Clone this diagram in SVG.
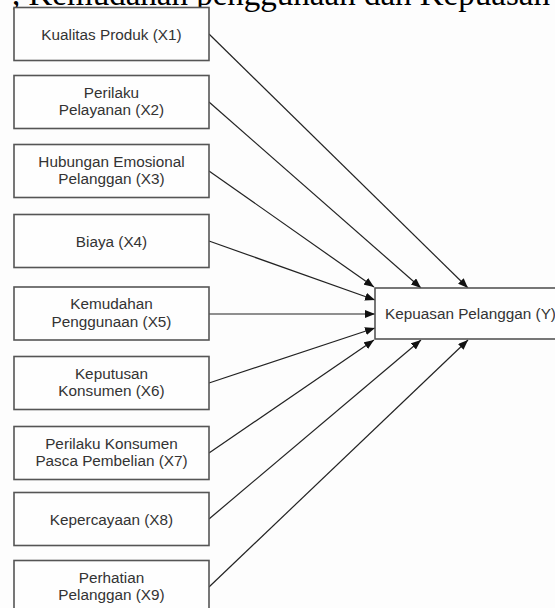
<svg xmlns="http://www.w3.org/2000/svg" width="555" height="608" viewBox="0 0 555 608">
<defs>
<style>
.box{fill:#fefefe;stroke:#555;stroke-width:1.6}
.lbl{font-family:"Liberation Sans",Arial,sans-serif;font-size:15.3px;fill:#333;text-anchor:middle}
.edge{stroke:#222;stroke-width:1.2;fill:none;marker-end:url(#ah)}
.hdr{font-family:"Liberation Serif","Times New Roman",serif;font-size:33px;fill:#000}
</style>
<marker id="ah" markerUnits="userSpaceOnUse" markerWidth="10" markerHeight="8" refX="10" refY="4" orient="auto">
<path d="M0,0 L10,4 L0,8 z" fill="#111"/>
</marker>
</defs>
<rect width="555" height="608" fill="#fdfdfd"/>
<text class="hdr" x="12" y="5">, Kemudahan penggunaan dan Kepuasan Pelanggan</text>
<g id="connectors">
<line class="edge" x1="209" y1="34" x2="468" y2="288"/>
<line class="edge" x1="209" y1="102" x2="421" y2="288"/>
<line class="edge" x1="209" y1="171" x2="374" y2="287"/>
<line class="edge" x1="209" y1="241" x2="375" y2="300"/>
<line class="edge" x1="209" y1="314" x2="375" y2="314"/>
<line class="edge" x1="209" y1="383" x2="375" y2="328"/>
<line class="edge" x1="209" y1="453" x2="374" y2="340"/>
<line class="edge" x1="209" y1="519" x2="421" y2="340"/>
<line class="edge" x1="209" y1="587" x2="468" y2="340"/>
</g>
<g id="x1"><rect class="box" x="14" y="7.5" width="195" height="53"/><text class="lbl" x="111.5" y="39.5">Kualitas Produk (X1)</text></g>
<g id="x2"><rect class="box" x="14" y="75.5" width="195" height="53"/><text class="lbl" x="111.5" y="97.5">Perilaku</text><text class="lbl" x="111.5" y="115">Pelayanan (X2)</text></g>
<g id="x3"><rect class="box" x="14" y="144.5" width="195" height="53"/><text class="lbl" x="111.5" y="166.5">Hubungan Emosional</text><text class="lbl" x="111.5" y="184">Pelanggan (X3)</text></g>
<g id="x4"><rect class="box" x="14" y="214.5" width="195" height="53"/><text class="lbl" x="111.5" y="246.5">Biaya (X4)</text></g>
<g id="x5"><rect class="box" x="14" y="287" width="195" height="53"/><text class="lbl" x="111.5" y="309">Kemudahan</text><text class="lbl" x="111.5" y="326.5">Penggunaan (X5)</text></g>
<g id="x6"><rect class="box" x="14" y="356.5" width="195" height="53"/><text class="lbl" x="111.5" y="378.5">Keputusan</text><text class="lbl" x="111.5" y="396">Konsumen (X6)</text></g>
<g id="x7"><rect class="box" x="14" y="426.5" width="195" height="53"/><text class="lbl" x="111.5" y="448.5">Perilaku Konsumen</text><text class="lbl" x="111.5" y="466">Pasca Pembelian (X7)</text></g>
<g id="x8"><rect class="box" x="14" y="492.5" width="195" height="53"/><text class="lbl" x="111.5" y="524.5">Kepercayaan (X8)</text></g>
<g id="x9"><rect class="box" x="14" y="560.5" width="195" height="53"/><text class="lbl" x="111.5" y="582.5">Perhatian</text><text class="lbl" x="111.5" y="600">Pelanggan (X9)</text></g>
<g id="y"><rect class="box" x="375" y="288" width="200" height="51"/><text class="lbl" x="385" y="319" style="text-anchor:start">Kepuasan Pelanggan (Y)</text></g>
</svg>
